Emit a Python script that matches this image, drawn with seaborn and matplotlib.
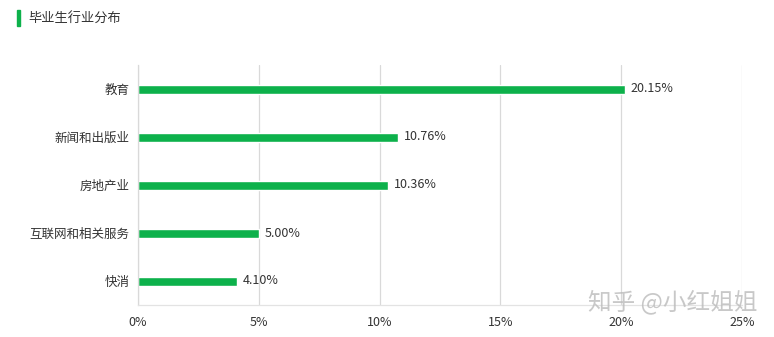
import matplotlib
matplotlib.use("Agg")
import matplotlib.pyplot as plt
import seaborn as sns
import pandas as pd
from matplotlib.patches import Rectangle
from matplotlib.ticker import FixedLocator

categories = ["教育", "新闻和出版业", "房地产业", "互联网和相关服务", "快消"]
values = [20.15, 10.76, 10.36, 5.00, 4.10]
x_ticks = [0, 5, 10, 15, 20, 25]
x_tick_labels = ["0%", "5%", "10%", "15%", "20%", "25%"]
title = "毕业生行业分布"
watermark = "知乎 @小红姐姐"

sns.set_theme(style="white")
plt.rcParams['font.family'] = ['Noto Sans CJK SC', 'DejaVu Sans']

df = pd.DataFrame({"cat": categories, "val": values})

W, H = 774, 337
fig = plt.figure(figsize=(W / 100, H / 100), dpi=100)
ax = fig.add_axes([138 / W, 1 - 305 / H, (742 - 138) / W, (305 - 65) / H])

green = "#0DB14B"
sns.barplot(data=df, x="val", y="cat", orient="h", color=green, width=9 / 48,
            saturation=1, ax=ax)

ax.set_xlim(0, 25)
ax.set_ylim(4.5, -0.5)
ax.set_xticks(x_ticks)
ax.set_xticklabels(x_tick_labels, fontsize=9, color="#333333")
ax.set_xlabel("")
ax.set_ylabel("")
ax.tick_params(axis="x", length=0, pad=8)
ax.tick_params(axis="y", which="major", length=0, pad=6, labelsize=9, labelcolor="#333333")
ax.yaxis.set_minor_locator(FixedLocator([-0.5, 0.5, 1.5, 2.5, 3.5, 4.5]))
ax.tick_params(axis="y", which="minor", length=5, color="#d9d9d9", width=1)
for lbl in ax.get_yticklabels():
    lbl.set_color("#333333")

ax.grid(axis="x", color="#d9d9d9", linewidth=0.9)
ax.set_axisbelow(True)
for s in ["top", "right"]:
    ax.spines[s].set_visible(False)
ax.spines["left"].set_color("#d9d9d9")
ax.spines["left"].set_linewidth(0.9)
ax.spines["bottom"].set_color("#e3e3e3")
ax.spines["bottom"].set_linewidth(0.9)

for i, v in enumerate(values):
    ax.annotate(f"{v:.2f}%", xy=(v, i), xytext=(4, 0), textcoords="offset points",
                va="center", ha="left", fontsize=9, color="#333333")

fig.patches.append(Rectangle((17 / W, 1 - 26 / H), 3 / W, 16 / H,
                             transform=fig.transFigure, color=green))
fig.text(28 / W, 1 - 18 / H, title, fontsize=9.5, color="#333333", va="center", ha="left")
fig.text(673 / W, 1 - 302 / H, watermark, fontsize=17, color="#bbbbbb", alpha=0.8,
         va="center", ha="center")

fig.savefig("out.png", dpi=100)
